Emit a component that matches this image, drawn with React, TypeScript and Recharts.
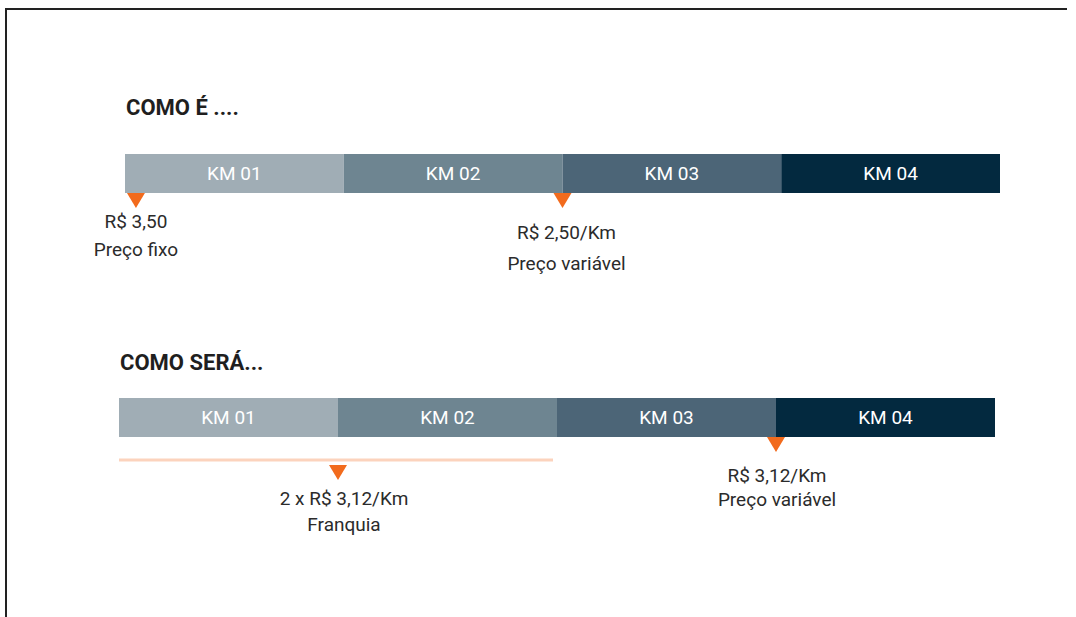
import { Bar, BarChart, LabelList, ReferenceDot, ReferenceLine, XAxis, YAxis } from 'recharts';

// segments of the route, 1 km each
const segmentNames = ['KM 01', 'KM 02', 'KM 03', 'KM 04'];
const segmentKm = [1, 1, 1, 1];
const segmentColors = ['#a0adb5', '#6e8591', '#4c6577', '#03293f'];

// price markers: position on the route (km) and the two text lines under it
const currentMarkerKm = [0.05, 2];
const currentMarkerText = [
  ['R$ 3,50', 'Preço fixo'],
  ['R$ 2,50/Km', 'Preço variável'],
];
const futureMarkerKm = [1, 3];
const futureMarkerText = [
  ['2 x R$ 3,12/Km', 'Franquia'],
  ['R$ 3,12/Km', 'Preço variável'],
];
const franchiseRange = [0, 2];

const ORANGE = '#f26b1d';
const TEXT = '#2b2b2b';
const BAR_H = 39;
const FONT = 'Roboto, "Noto Sans", sans-serif';

function rowData(row: string) {
  const d: Record<string, string | number> = { row };
  segmentKm.forEach((v, i) => {
    d[`k${i}`] = v;
    d[`l${i}`] = segmentNames[i];
  });
  return [d];
}

// marker look: triangle drop below bar, first text baseline, line gap, text dx
type MarkStyle = { drop: number; base: number; gap: number; dx: number };

function markerShape(lines: string[], st: MarkStyle) {
  return (p: any) => {
    const x = p.cx;
    const top = p.cy + BAR_H / 2 + st.drop;
    return (
      <g>
        <path d={`M${x - 9},${top} L${x + 9},${top} L${x},${top + 15} Z`} fill={ORANGE} />
        {lines.map((t, i) => (
          <text
            key={t}
            x={x + st.dx}
            y={p.cy + BAR_H / 2 + st.base + i * st.gap}
            textAnchor="middle"
            fontSize={19}
            fontFamily={FONT}
            fill={TEXT}
          >
            {t}
          </text>
        ))}
      </g>
    );
  };
}

function RouteBar(props: {
  row: string;
  left: number;
  top: number;
  height: number;
  barTop: number;
  right: number;
  children?: any;
}) {
  const { row, left, top, height, barTop, right } = props;
  return (
    <div style={{ position: 'absolute', left: 0, top }}>
      <BarChart
        width={1076}
        height={height}
        data={rowData(row)}
        layout="vertical"
        barCategoryGap={0}
        margin={{ top: barTop, right, bottom: height - barTop - BAR_H, left }}
      >
        <XAxis type="number" domain={[0, 4]} hide />
        <YAxis type="category" dataKey="row" hide />
        {segmentKm.map((_, i) => (
          <Bar key={i} dataKey={`k${i}`} stackId="r" fill={segmentColors[i]} isAnimationActive={false}>
            <LabelList dataKey={`l${i}`} position="center" fill="#ffffff" fontSize={19} fontFamily={FONT} />
          </Bar>
        ))}
        {props.children}
      </BarChart>
    </div>
  );
}

const currentStyles: MarkStyle[] = [
  { drop: 0, base: 35, gap: 28, dx: 0 },
  { drop: 0, base: 46, gap: 31, dx: 4 },
];
const futureStyles: MarkStyle[] = [
  { drop: 28, base: 68, gap: 26, dx: 6 },
  { drop: 0, base: 45, gap: 24, dx: 1 },
];

export default function App() {
  return (
    <div
      style={{
        position: 'absolute',
        left: 0,
        top: 0,
        width: 1076,
        height: 617,
        background: '#fff',
        overflow: 'hidden',
        fontFamily: FONT,
      }}
    >
      <div style={{ position: 'absolute', left: 5, top: 8, width: 1062, height: 1.5, background: '#222' }} />
      <div style={{ position: 'absolute', left: 5, top: 8, width: 1.5, height: 620, background: '#222' }} />

      <div style={{ position: 'absolute', left: 126, top: 95, fontSize: 22, fontWeight: 700, color: '#1f1f1f' }}>
        COMO É ....
      </div>
      <RouteBar row="atual" left={125} right={76} top={130} height={160} barTop={24}>
        {currentMarkerKm.map((km, i) => (
          <ReferenceDot
            key={i}
            x={km}
            y="atual"
            r={0}
            ifOverflow="visible"
            shape={markerShape(currentMarkerText[i], currentStyles[i])}
          />
        ))}
      </RouteBar>

      <div style={{ position: 'absolute', left: 120, top: 350, fontSize: 22, fontWeight: 700, color: '#1f1f1f' }}>
        COMO SERÁ...
      </div>
      <RouteBar row="futuro" left={119} right={81} top={370} height={190} barTop={28}>
        <ReferenceLine
          segment={[
            { x: franchiseRange[0], y: 'futuro' },
            { x: franchiseRange[1], y: 'futuro' },
          ]}
          ifOverflow="visible"
          shape={(p: any) => (
            <line
              x1={p.x1}
              x2={p.x2 - 4}
              y1={p.y1 + 42.5}
              y2={p.y2 + 42.5}
              stroke="#fcd3bd"
              strokeWidth={3}
            />
          )}
        />
        {futureMarkerKm.map((km, i) => (
          <ReferenceDot
            key={i}
            x={km}
            y="futuro"
            r={0}
            ifOverflow="visible"
            shape={markerShape(futureMarkerText[i], futureStyles[i])}
          />
        ))}
      </RouteBar>
    </div>
  );
}
